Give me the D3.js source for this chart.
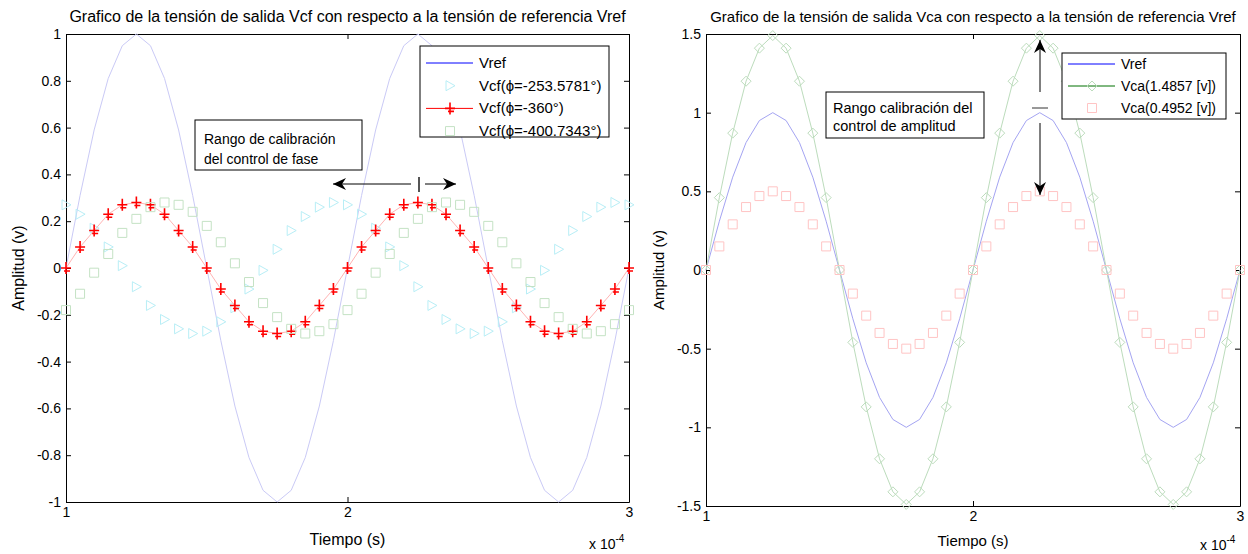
<!DOCTYPE html>
<html>
<head>
<meta charset="utf-8">
<script src="https://cdn.jsdelivr.net/npm/d3@7"></script>
<style>
  body { margin: 0; background: #fff; }
  svg text { font-family: "Liberation Sans", Arial, sans-serif; fill: #000; }
</style>
</head>
<body>
<div id="chart"></div>
<script>
// tiempo en unidades de 1e-4 s
const time = [1.00, 1.05, 1.10, 1.15, 1.20, 1.25, 1.30, 1.35, 1.40, 1.45,
              1.50, 1.55, 1.60, 1.65, 1.70, 1.75, 1.80, 1.85, 1.90, 1.95,
              2.00, 2.05, 2.10, 2.15, 2.20, 2.25, 2.30, 2.35, 2.40, 2.45,
              2.50, 2.55, 2.60, 2.65, 2.70, 2.75, 2.80, 2.85, 2.90, 2.95, 3.00];

const vref = [0, 0.31, 0.59, 0.81, 0.95, 1, 0.95, 0.81, 0.59, 0.31,
              0, -0.31, -0.59, -0.81, -0.95, -1, -0.95, -0.81, -0.59, -0.31,
              0, 0.31, 0.59, 0.81, 0.95, 1, 0.95, 0.81, 0.59, 0.31,
              0, -0.31, -0.59, -0.81, -0.95, -1, -0.95, -0.81, -0.59, -0.31, 0];

// Vcf (fase)
const vcf253 = [0.27, 0.23, 0.17, 0.09, 0.01, -0.08, -0.16, -0.22, -0.26, -0.28,
                -0.27, -0.23, -0.17, -0.09, -0.01, 0.08, 0.16, 0.22, 0.26, 0.28,
                0.27, 0.23, 0.17, 0.09, 0.01, -0.08, -0.16, -0.22, -0.26, -0.28,
                -0.27, -0.23, -0.17, -0.09, -0.01, 0.08, 0.16, 0.22, 0.26, 0.28, 0.27];
const vcf360 = [0, 0.09, 0.16, 0.23, 0.27, 0.28, 0.27, 0.23, 0.16, 0.09,
                0, -0.09, -0.16, -0.23, -0.27, -0.28, -0.27, -0.23, -0.16, -0.09,
                0, 0.09, 0.16, 0.23, 0.27, 0.28, 0.27, 0.23, 0.16, 0.09,
                0, -0.09, -0.16, -0.23, -0.27, -0.28, -0.27, -0.23, -0.16, -0.09, 0];
const vcf400 = [-0.18, -0.11, -0.02, 0.06, 0.15, 0.21, 0.26, 0.28, 0.27, 0.24,
                0.18, 0.11, 0.02, -0.06, -0.15, -0.21, -0.26, -0.28, -0.27, -0.24,
                -0.18, -0.11, -0.02, 0.06, 0.15, 0.21, 0.26, 0.28, 0.27, 0.24,
                0.18, 0.11, 0.02, -0.06, -0.15, -0.21, -0.26, -0.28, -0.27, -0.24, -0.18];

// Vca (amplitud)
const vcaAlta = [0, 0.46, 0.87, 1.20, 1.41, 1.49, 1.41, 1.20, 0.87, 0.46,
                 0, -0.46, -0.87, -1.20, -1.41, -1.49, -1.41, -1.20, -0.87, -0.46,
                 0, 0.46, 0.87, 1.20, 1.41, 1.49, 1.41, 1.20, 0.87, 0.46,
                 0, -0.46, -0.87, -1.20, -1.41, -1.49, -1.41, -1.20, -0.87, -0.46, 0];
const vcaBaja = [0, 0.15, 0.29, 0.40, 0.47, 0.50, 0.47, 0.40, 0.29, 0.15,
                 0, -0.15, -0.29, -0.40, -0.47, -0.50, -0.47, -0.40, -0.29, -0.15,
                 0, 0.15, 0.29, 0.40, 0.47, 0.50, 0.47, 0.40, 0.29, 0.15,
                 0, -0.15, -0.29, -0.40, -0.47, -0.50, -0.47, -0.40, -0.29, -0.15, 0];

const xTicks = [1, 2, 3];
const yTicksFase = [-1, -0.8, -0.6, -0.4, -0.2, 0, 0.2, 0.4, 0.6, 0.8, 1];
const yTicksAmp = [-1.5, -1, -0.5, 0, 0.5, 1, 1.5];

const titleFase = "Grafico de la tensión de salida Vcf con respecto a la tensión de referencia Vref";
const titleAmp = "Grafico de la tensión de salida Vca con respecto a la tensión de referencia Vref";

const svg = d3.select("#chart").append("svg")
    .attr("width", 1248).attr("height", 554);

// marcadores
const mk = {
  tri: "M-4,-5L5,0L-4,5Z",
  sq: "M-4.5,-4.5h9v9h-9Z",
  dia: "M0,-5L5,0L0,5L-5,0Z",
  plus: "M-5,0H5M0,-6V5M-2,3H4M0,3V6"
};

function arrow(g, x1, y1, x2, y2) {
  const a = Math.atan2(y2 - y1, x2 - x1) * 180 / Math.PI;
  g.append("line").attr("x1", x1).attr("y1", y1).attr("x2", x2).attr("y2", y2)
    .attr("stroke", "#000").attr("stroke-width", 1);
  g.append("path").attr("d", "M0,0L-13,-6L-9,0L-13,6Z")
    .attr("transform", `translate(${x2},${y2}) rotate(${a})`)
    .attr("fill", "#000");
}

function panel(p) {
  const x = d3.scaleLinear().domain([1, 3]).range([p.x0, p.x1]);
  const y = d3.scaleLinear().domain(p.yDomain).range([p.y1, p.y0]);
  const g = svg.append("g");
  const fs = p.fs;

  const fmt = d => String(+d.toFixed(1));
  const styleAxis = sel => {
    sel.selectAll("text").attr("font-size", fs.tick).attr("font-family", "Liberation Sans, Arial, sans-serif");
    sel.selectAll("path,line").attr("stroke", "#000");
  };

  g.append("g").attr("transform", `translate(${p.x0},0)`)
    .call(d3.axisLeft(y).tickValues(p.yTicks).tickFormat(fmt).tickSizeInner(-5).tickSizeOuter(0).tickPadding(5))
    .call(styleAxis);
  g.append("g").attr("transform", `translate(${p.x1},0)`)
    .call(d3.axisRight(y).tickValues(p.yTicks).tickFormat("").tickSizeInner(-5).tickSizeOuter(0))
    .call(styleAxis);
  g.append("g").attr("transform", `translate(0,${p.y1})`)
    .call(d3.axisBottom(x).tickValues(xTicks).tickFormat(fmt).tickSizeInner(-5).tickSizeOuter(0).tickPadding(5))
    .call(styleAxis);
  g.append("g").attr("transform", `translate(0,${p.y0})`)
    .call(d3.axisTop(x).tickValues(xTicks).tickFormat("").tickSizeInner(-5).tickSizeOuter(0))
    .call(styleAxis);

  // títulos y etiquetas
  const cx = (p.x0 + p.x1) / 2, cy = (p.y0 + p.y1) / 2;
  g.append("text").attr("x", cx).attr("y", 22).attr("text-anchor", "middle")
    .attr("font-size", fs.title).text(p.title);
  g.append("text").attr("transform", `translate(${p.x0 - 42},${cy}) rotate(-90)`)
    .attr("text-anchor", "middle").attr("font-size", fs.label).text("Amplitud (v)");
  g.append("text").attr("x", cx).attr("y", p.labelY).attr("text-anchor", "middle")
    .attr("font-size", fs.label).text("Tiempo (s)");
  const ex = g.append("text").attr("x", p.x1 - 40).attr("y", p.expY).attr("font-size", 14);
  ex.append("tspan").text("x 10");
  ex.append("tspan").attr("dy", -7).attr("font-size", 10).text("-4");

  const plot = g.append("g");
  const line = d3.line().x((d, i) => x(time[i])).y(d => y(d));

  p.series.forEach(s => {
    if (s.line) {
      plot.append("path").datum(s.values).attr("d", line)
        .attr("fill", "none").attr("stroke", s.line).attr("stroke-width", 1);
    }
    if (s.marker) {
      plot.append("g").selectAll("path").data(s.values).join("path")
        .attr("d", mk[s.marker])
        .attr("transform", (d, i) => `translate(${x(time[i])},${y(d)})`)
        .attr("fill", "none").attr("stroke", s.color).attr("stroke-width", s.mw || 1);
    }
  });

  // leyenda
  const L = p.legend;
  const lg = g.append("g");
  lg.append("rect").attr("x", L.x).attr("y", L.y).attr("width", L.w).attr("height", L.h)
    .attr("fill", "#fff").attr("stroke", "#000");
  p.series.forEach((s, i) => {
    const ly = L.y + L.top + i * L.step;
    if (s.legLine) {
      lg.append("line").attr("x1", L.x + 6).attr("x2", L.x + 53).attr("y1", ly).attr("y2", ly)
        .attr("stroke", s.legLine).attr("stroke-width", 1);
    }
    if (s.marker) {
      lg.append("path").attr("d", mk[s.marker])
        .attr("transform", `translate(${L.x + 30},${ly})`)
        .attr("fill", "none").attr("stroke", s.color).attr("stroke-width", s.mw || 1);
    }
    lg.append("text").attr("x", L.x + 59).attr("y", ly + 5).attr("font-size", fs.legend).text(s.name);
  });

  return { g, x, y };
}

const left = panel({
  x0: 66, x1: 629, y0: 34, y1: 502, labelY: 545, expY: 549,
  fs: { title: 16, label: 16, legend: 15, tick: 14 },
  yDomain: [-1, 1], yTicks: yTicksFase, title: titleFase,
  legend: { x: 420, y: 46, w: 189, h: 91, top: 17, step: 22.7 },
  series: [
    { name: "Vref", values: vref, line: "#cacaf6", legLine: "#0000ff" },
    { name: "Vcf(ϕ=-253.5781°)", values: vcf253, marker: "tri", color: "#b8eef6" },
    { name: "Vcf(ϕ=-360°)", values: vcf360, line: "#ffb4b4", legLine: "#ff0000", marker: "plus", color: "#ff0000", mw: 1.6 },
    { name: "Vcf(ϕ=-400.7343°)", values: vcf400, marker: "sq", color: "#c4e2c4" }
  ]
});

const right = panel({
  x0: 706, x1: 1240, y0: 34, y1: 506, labelY: 546, expY: 550,
  fs: { title: 15, label: 15, legend: 14, tick: 14 },
  yDomain: [-1.5, 1.5], yTicks: yTicksAmp, title: titleAmp,
  legend: { x: 1062, y: 53, w: 164, h: 66, top: 11, step: 22 },
  series: [
    { name: "Vref", values: vref, line: "#a4a4f2", legLine: "#0000ff" },
    { name: "Vca(1.4857 [v])", values: vcaAlta, line: "#bcdcbc", legLine: "#007000", marker: "dia", color: "#bcdcbc" },
    { name: "Vca(0.4952 [v])", values: vcaBaja, marker: "sq", color: "#ffc4c4" }
  ]
});

// anotaciones izquierda
const a1 = left.g.append("g");
a1.append("rect").attr("x", 195).attr("y", 120).attr("width", 167).attr("height", 50)
  .attr("fill", "#fff").attr("stroke", "#000");
a1.append("text").attr("x", 204).attr("y", 144).attr("font-size", 14).text("Rango de calibración");
a1.append("text").attr("x", 204).attr("y", 164).attr("font-size", 14).text("del control de fase");
arrow(a1, 411, 184, 333, 184);
arrow(a1, 425, 184, 456, 184);
a1.append("line").attr("x1", 419).attr("x2", 419).attr("y1", 177).attr("y2", 192)
  .attr("stroke", "#555").attr("stroke-width", 2);

// anotaciones derecha
const a2 = right.g.append("g");
a2.append("rect").attr("x", 826).attr("y", 92).attr("width", 158).attr("height", 46)
  .attr("fill", "#fff").attr("stroke", "#000");
a2.append("text").attr("x", 833).attr("y", 113).attr("font-size", 14.5).text("Rango calibración del");
a2.append("text").attr("x", 833).attr("y", 131).attr("font-size", 14.5).text("control de amplitud");
arrow(a2, 1040, 92, 1040, 40);
arrow(a2, 1040, 123, 1040, 195);
a2.append("line").attr("x1", 1032).attr("x2", 1048).attr("y1", 108).attr("y2", 108)
  .attr("stroke", "#333").attr("stroke-width", 1);
</script>
</body>
</html>
